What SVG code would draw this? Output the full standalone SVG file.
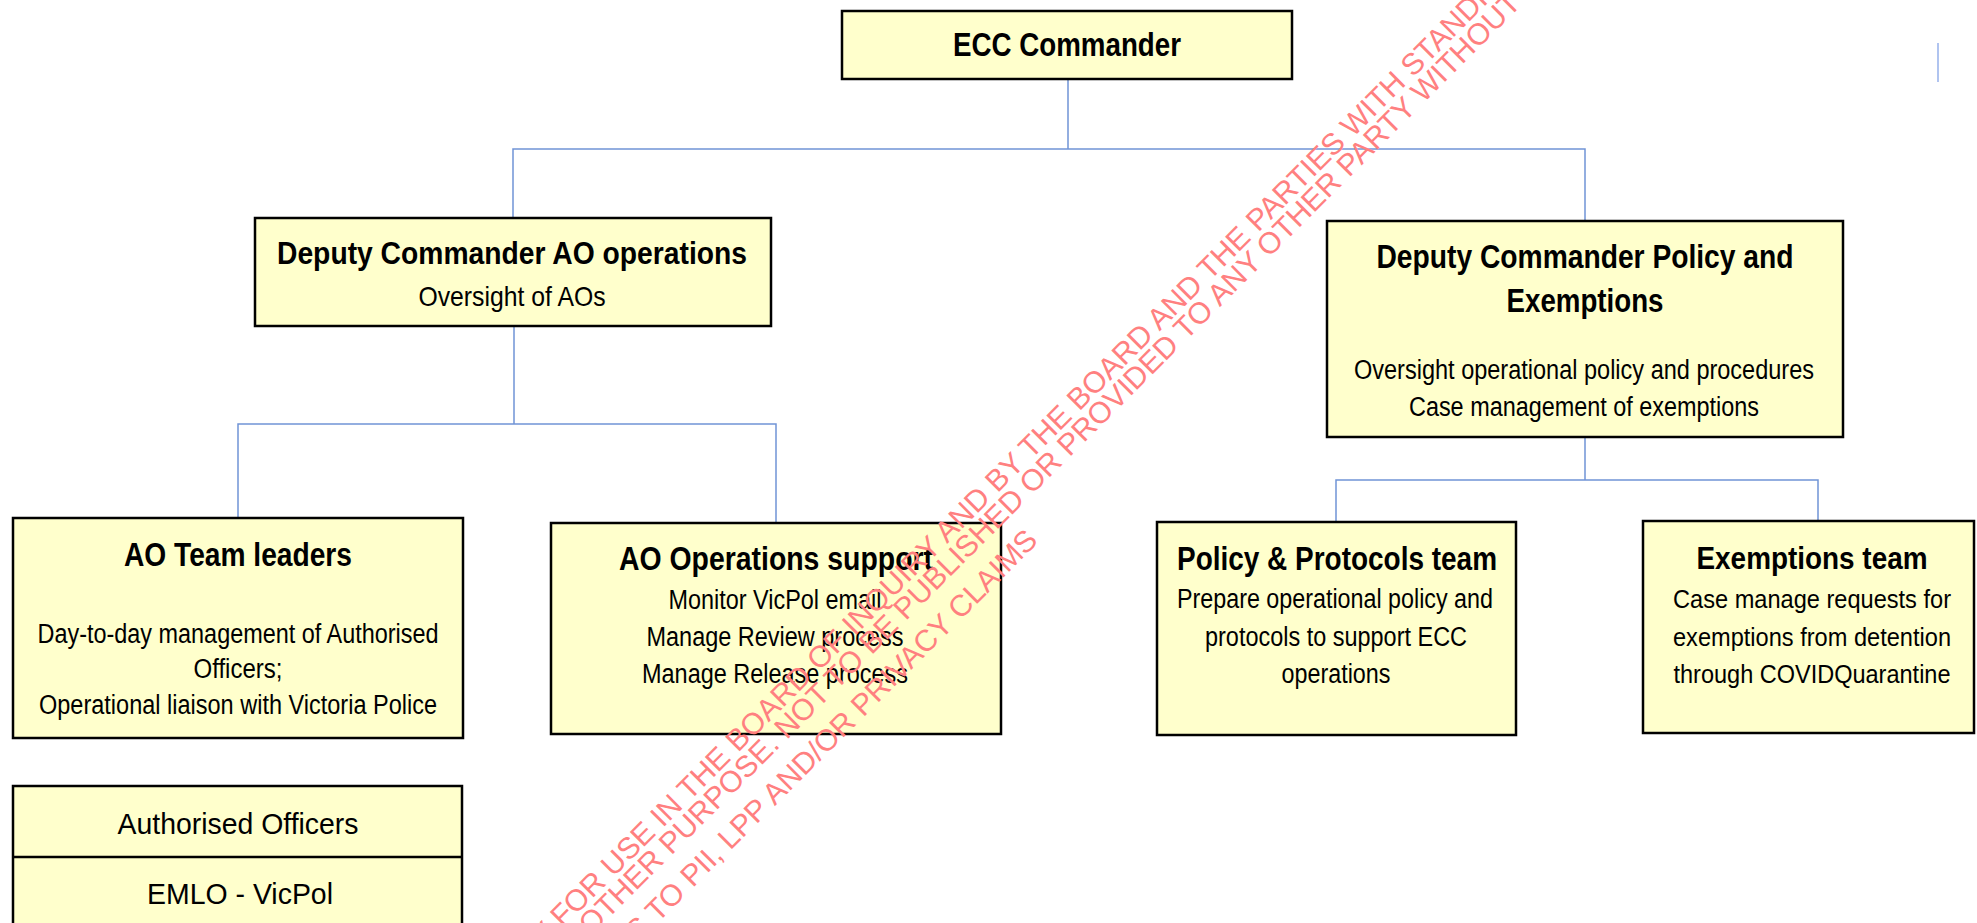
<svg xmlns="http://www.w3.org/2000/svg" width="1977" height="923" viewBox="0 0 1977 923">
<style>
.box{fill:#ffffcc;stroke:#000;stroke-width:2.5}
.t{font-family:"Liberation Sans Narrow","Liberation Sans",Arial,sans-serif;fill:#000;text-anchor:middle}
.b{font-weight:bold}
.conn{fill:none;stroke:#7094d6;stroke-width:1.5}
.wm{font-family:"Liberation Sans",Arial,sans-serif;font-size:30px;fill:#ff8080}
</style>
<rect width="1977" height="923" fill="#fff"/>
<g id="connectors">
<path class="conn" d="M1068,79 V149 M513,218 V149 H1585 V221"/>
<path class="conn" d="M514,326 V424 M238,518 V424 H776 V523"/>
<path class="conn" d="M1585,437 V480 M1336,522 V480 H1818 V521"/>
<line x1="1938" y1="43" x2="1938" y2="82" stroke="#b0c4f0" stroke-width="2"/>
</g>
<g id="ecc-commander">
<rect class="box" x="842" y="11" width="450" height="68"/>
<text class="t b" x="1067" y="56" font-size="34" textLength="228" lengthAdjust="spacingAndGlyphs">ECC Commander</text>
</g>
<g id="deputy-ao">
<rect class="box" x="255" y="218" width="516" height="108"/>
<text class="t b" x="512" y="264" font-size="31" textLength="470" lengthAdjust="spacingAndGlyphs">Deputy Commander AO operations</text>
<text class="t" x="512" y="306" font-size="28" textLength="187" lengthAdjust="spacingAndGlyphs">Oversight of AOs</text>
</g>
<g id="deputy-policy">
<rect class="box" x="1327" y="221" width="516" height="216"/>
<text class="t b" x="1585" y="268" font-size="34" textLength="417" lengthAdjust="spacingAndGlyphs">Deputy Commander Policy and</text>
<text class="t b" x="1585" y="312" font-size="34" textLength="157" lengthAdjust="spacingAndGlyphs">Exemptions</text>
<text class="t" x="1584" y="379" font-size="27" textLength="460" lengthAdjust="spacingAndGlyphs">Oversight operational policy and procedures</text>
<text class="t" x="1584" y="416" font-size="27" textLength="350" lengthAdjust="spacingAndGlyphs">Case management of exemptions</text>
</g>
<g id="ao-team-leaders">
<rect class="box" x="13" y="518" width="450" height="220"/>
<text class="t b" x="238" y="566" font-size="33" textLength="228" lengthAdjust="spacingAndGlyphs">AO Team leaders</text>
<text class="t" x="238" y="643" font-size="27" textLength="401" lengthAdjust="spacingAndGlyphs">Day-to-day management of Authorised</text>
<text class="t" x="238" y="678" font-size="27" textLength="89" lengthAdjust="spacingAndGlyphs">Officers;</text>
<text class="t" x="238" y="714" font-size="27" textLength="398" lengthAdjust="spacingAndGlyphs">Operational liaison with Victoria Police</text>
</g>
<g id="ao-operations-support">
<rect class="box" x="551" y="523" width="450" height="211"/>
<text class="t b" x="776" y="570" font-size="33" textLength="314" lengthAdjust="spacingAndGlyphs">AO Operations support</text>
<text class="t" x="775" y="609" font-size="27" textLength="213" lengthAdjust="spacingAndGlyphs">Monitor VicPol email</text>
<text class="t" x="775" y="646" font-size="27" textLength="257" lengthAdjust="spacingAndGlyphs">Manage Review process</text>
<text class="t" x="775" y="683" font-size="27" textLength="266" lengthAdjust="spacingAndGlyphs">Manage Release process</text>
</g>
<g id="policy-protocols-team">
<rect class="box" x="1157" y="522" width="359" height="213"/>
<text class="t b" x="1337" y="570" font-size="34" textLength="320" lengthAdjust="spacingAndGlyphs">Policy &amp; Protocols team</text>
<text class="t" x="1335" y="608" font-size="27" textLength="316" lengthAdjust="spacingAndGlyphs">Prepare operational policy and</text>
<text class="t" x="1336" y="646" font-size="27" textLength="262" lengthAdjust="spacingAndGlyphs">protocols to support ECC</text>
<text class="t" x="1336" y="683" font-size="27" textLength="109" lengthAdjust="spacingAndGlyphs">operations</text>
</g>
<g id="exemptions-team">
<rect class="box" x="1643" y="521" width="331" height="212"/>
<text class="t b" x="1812" y="569" font-size="32" textLength="231" lengthAdjust="spacingAndGlyphs">Exemptions team</text>
<text class="t" x="1812" y="608" font-size="25" textLength="278" lengthAdjust="spacingAndGlyphs">Case manage requests for</text>
<text class="t" x="1812" y="646" font-size="25" textLength="278" lengthAdjust="spacingAndGlyphs">exemptions from detention</text>
<text class="t" x="1812" y="683" font-size="25" textLength="277" lengthAdjust="spacingAndGlyphs">through COVIDQuarantine</text>
</g>
<g id="authorised-officers">
<rect class="box" x="13" y="786" width="449" height="160"/>
<line x1="13" y1="857" x2="462" y2="857" stroke="#000" stroke-width="2.5"/>
<text class="t" x="238" y="834" font-size="29" textLength="241" lengthAdjust="spacingAndGlyphs">Authorised Officers</text>
<text class="t" x="240" y="904" font-size="29" textLength="186" lengthAdjust="spacingAndGlyphs">EMLO - VicPol</text>
</g>
<g id="watermark">
<text class="wm" transform="translate(543,948) rotate(-45)">Y FOR USE IN THE BOARD OF INQUIRY AND BY THE BOARD AND THE PARTIES WITH STANDI</text>
<text class="wm" transform="translate(591,936) rotate(-45)">OTHER PURPOSE. NOT TO BE PUBLISHED OR PROVIDED TO ANY OTHER PARTY WITHOUT D</text>
<text class="wm" transform="translate(638,943) rotate(-45)">S TO PII, LPP AND/OR PRIVACY CLAIMS</text>
</g>
</svg>
